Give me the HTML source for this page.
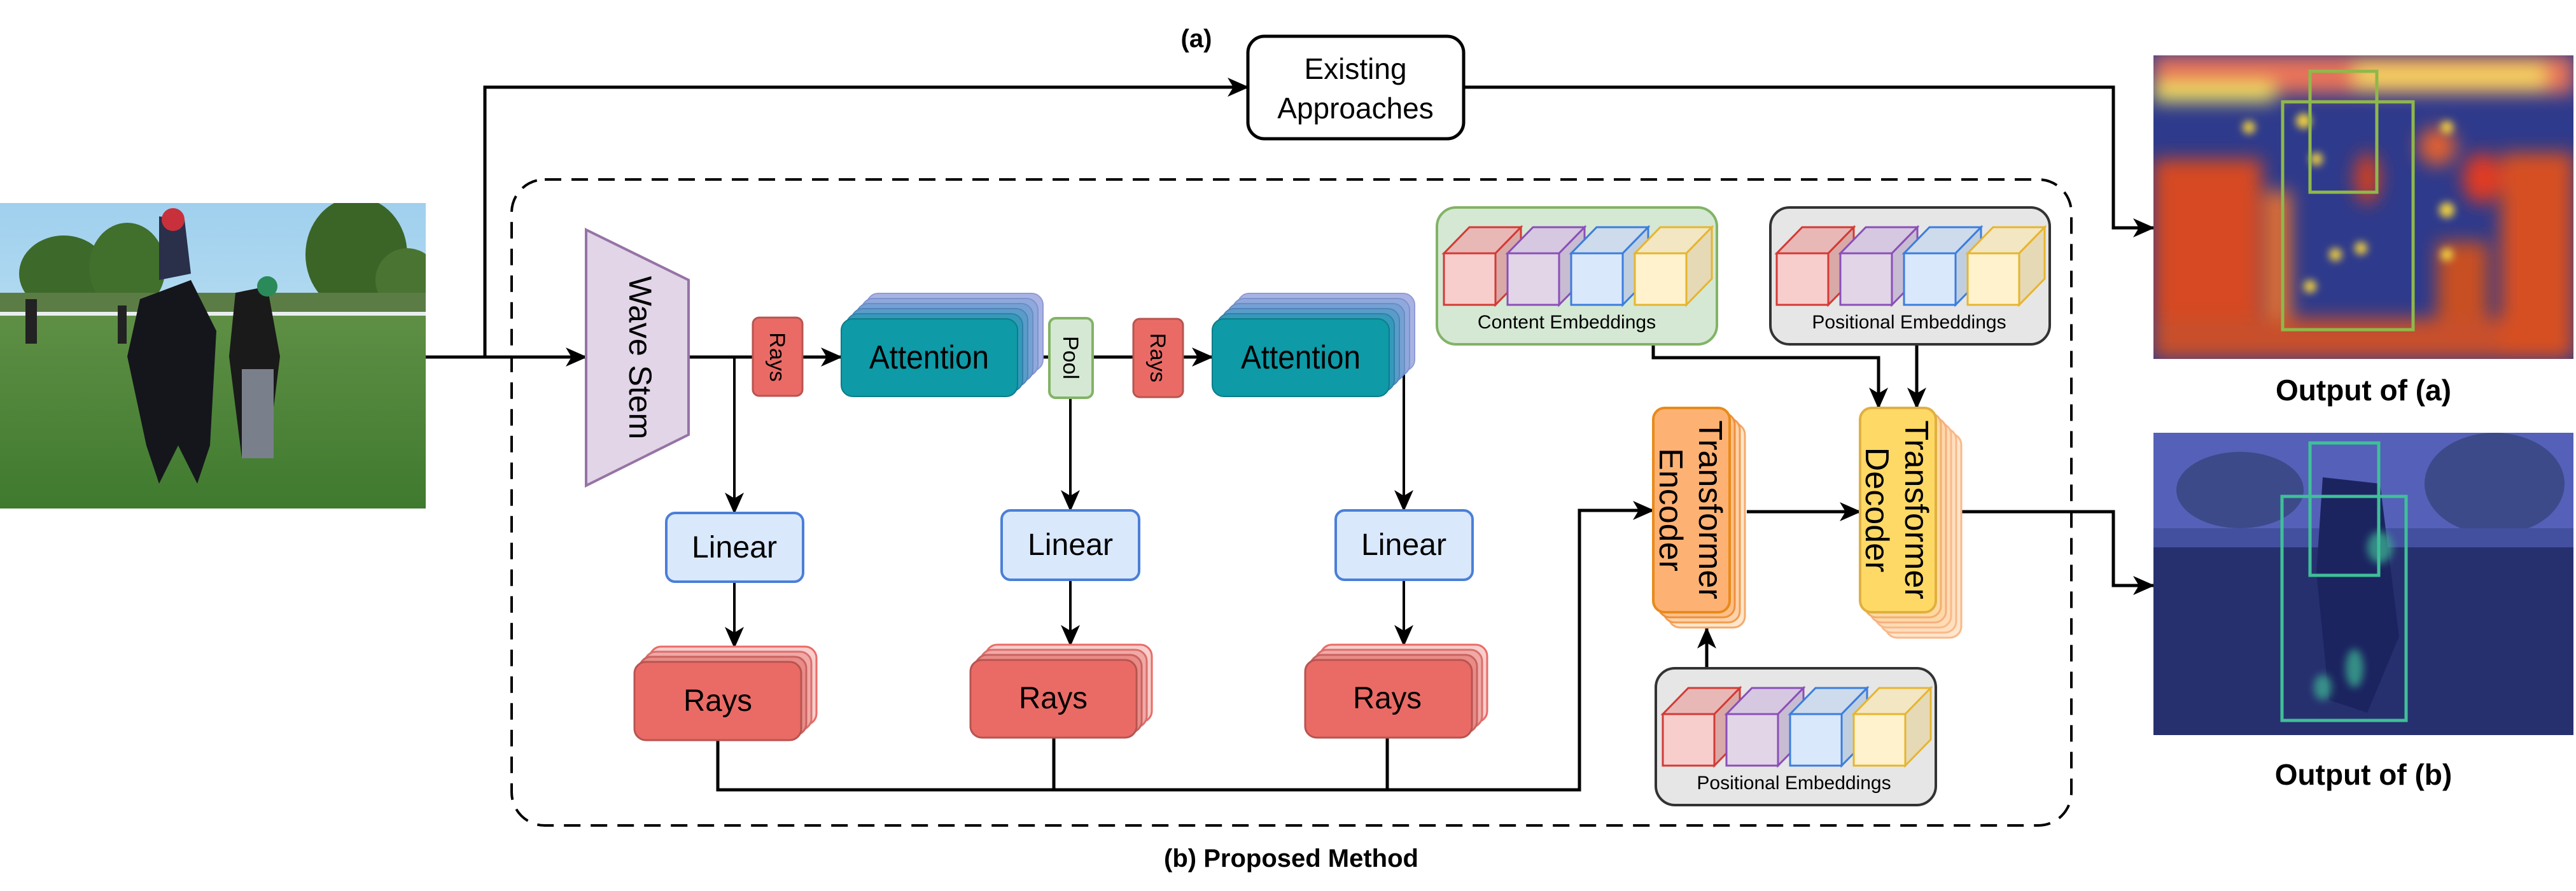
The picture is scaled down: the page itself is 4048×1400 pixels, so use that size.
<!DOCTYPE html>
<html><head><meta charset="utf-8"><style>
html,body{margin:0;padding:0;background:#fff;}
svg{display:block;}
text{font-family:"Liberation Sans",sans-serif;}
</style></head><body>
<svg width="4048" height="1400" viewBox="0 0 4048 1400" xmlns="http://www.w3.org/2000/svg">
<defs>
<marker id="ar" markerUnits="userSpaceOnUse" markerWidth="34" markerHeight="30" refX="32" refY="15" orient="auto">
<path d="M0,0 L34,15 L0,30 L9,15 z" fill="#000"/></marker>
<filter id="bl" x="-50%" y="-50%" width="200%" height="200%"><feGaussianBlur stdDeviation="14"/></filter>
<filter id="bl2" x="-50%" y="-50%" width="200%" height="200%"><feGaussianBlur stdDeviation="6"/></filter>
<linearGradient id="sky" x1="0" y1="0" x2="0" y2="1"><stop offset="0" stop-color="#9fd0ee"/><stop offset="1" stop-color="#d6ecf6"/></linearGradient>
<linearGradient id="grass" x1="0" y1="0" x2="0" y2="1"><stop offset="0" stop-color="#5e8f45"/><stop offset="1" stop-color="#3f7a2e"/></linearGradient>
<clipPath id="ca"><rect x="3384" y="87" width="660" height="477"/></clipPath>
<clipPath id="cb"><rect x="3384" y="680" width="660" height="475"/></clipPath>
<clipPath id="cp"><rect x="0" y="319" width="669" height="480"/></clipPath>
</defs>

<!-- Input photo -->
<g clip-path="url(#cp)">
<rect x="0" y="319" width="669" height="480" fill="url(#sky)"/>
<ellipse cx="100" cy="430" rx="70" ry="60" fill="#3d6a2a"/>
<ellipse cx="200" cy="420" rx="60" ry="70" fill="#416f2c"/>
<ellipse cx="560" cy="400" rx="80" ry="90" fill="#3a6527"/>
<ellipse cx="640" cy="440" rx="50" ry="50" fill="#4a7431"/>
<rect x="0" y="460" width="669" height="40" fill="#5b7d45"/>
<rect x="0" y="495" width="669" height="304" fill="url(#grass)"/>
<rect x="0" y="490" width="669" height="6" fill="#e8eef0"/>
<path d="M220,470 L300,440 L340,520 L330,700 L310,760 L280,700 L250,760 L230,700 L200,560 Z" fill="#15161c"/>
<path d="M250,340 L290,345 L300,430 L250,440 Z" fill="#2a2f4a"/>
<circle cx="272" cy="345" r="18" fill="#c8303c"/>
<path d="M370,460 L420,450 L440,560 L420,720 L380,720 L360,560 Z" fill="#1a1a1a"/>
<rect x="380" y="580" width="50" height="140" fill="#7a7f8c"/>
<circle cx="420" cy="450" r="16" fill="#2a8a5a"/>
<rect x="40" y="470" width="18" height="70" fill="#222"/>
<rect x="185" y="480" width="14" height="60" fill="#222"/>
</g>

<!-- Dashed box -->
<rect x="804" y="282" width="2451" height="1015" rx="52" fill="none" stroke="#000" stroke-width="4" stroke-dasharray="26,16"/>

<!-- Existing Approaches -->
<rect x="1961" y="57" width="339" height="161" rx="26" fill="#fff" stroke="#000" stroke-width="5"/>
<text x="2130" y="124" font-size="46" text-anchor="middle">Existing</text>
<text x="2130" y="186" font-size="46" text-anchor="middle">Approaches</text>
<text x="1880" y="74" font-size="40" font-weight="bold" text-anchor="middle">(a)</text>

<!-- Connectors main -->
<g fill="none" stroke="#000" stroke-width="5">
<path d="M669,561 H921" marker-end="url(#ar)"/>
<path d="M762,561 V137 H1961" marker-end="url(#ar)"/>
<path d="M2300,137 H3321 V358 H3384" marker-end="url(#ar)"/>
<path d="M1082,561 H1183"/>
<path d="M1261,561 H1322" marker-end="url(#ar)"/>
<path d="M1599,561 H1649"/>
<path d="M1717,561 H1781"/>
<path d="M1859,561 H1905" marker-end="url(#ar)"/>
<path d="M2598,541 V562 H2952 V641" marker-end="url(#ar)"/>
<path d="M3012,541 V641" marker-end="url(#ar)"/>
<path d="M2745,804 H2923" marker-end="url(#ar)"/>
<path d="M3082,804 H3321 V920 H3384" marker-end="url(#ar)"/>
<path d="M2682,1050 V987" marker-end="url(#ar)"/>
<path d="M1128,1163 V1241 H2482 V802 H2598" marker-end="url(#ar)"/>
<path d="M1656,1159 V1241"/>
<path d="M2180,1159 V1241"/>
</g>
<g fill="none" stroke="#000" stroke-width="4">
<path d="M1154,561 V806" marker-end="url(#ar)"/>
<path d="M1682,625 V802" marker-end="url(#ar)"/>
<path d="M2183,561 H2206 V802" marker-end="url(#ar)"/>
<path d="M1154,914 V1017" marker-end="url(#ar)"/>
<path d="M1682,911 V1014" marker-end="url(#ar)"/>
<path d="M2206,911 V1014" marker-end="url(#ar)"/>
</g>

<!-- Wave Stem -->
<polygon points="921,361 1082,440 1082,683 921,763" fill="#e1d5e7" stroke="#9673a6" stroke-width="4"/>
<text transform="translate(1006,562) rotate(90)" font-size="50" text-anchor="middle" dy="17">Wave Stem</text>

<!-- small Rays / Pool -->
<rect x="1183" y="499" width="78" height="123" rx="10" fill="#ea6b66" stroke="#b85450" stroke-width="3"/>
<text transform="translate(1222,561) rotate(90)" font-size="34" text-anchor="middle" dy="12">Rays</text>
<rect x="1649" y="500" width="68" height="125" rx="10" fill="#d5e8d4" stroke="#82b366" stroke-width="4"/>
<text transform="translate(1683,562) rotate(90)" font-size="34" text-anchor="middle" dy="12">Pool</text>
<rect x="1781" y="501" width="78" height="123" rx="10" fill="#ea6b66" stroke="#b85450" stroke-width="3"/>
<text transform="translate(1820,562) rotate(90)" font-size="34" text-anchor="middle" dy="12">Rays</text>

<!-- Attention stacks -->
<g stroke-width="2">
<rect x="1362" y="461" width="277" height="122" rx="18" fill="#a9b3e3" stroke="#8f9ad6"/>
<rect x="1354" y="469" width="277" height="122" rx="18" fill="#8fa9dc" stroke="#7d93cf"/>
<rect x="1346" y="477" width="277" height="122" rx="18" fill="#74a1d3" stroke="#6b8cc4"/>
<rect x="1338" y="485" width="277" height="122" rx="18" fill="#5a9cc9" stroke="#4f84b8"/>
<rect x="1330" y="493" width="277" height="122" rx="18" fill="#3599bb" stroke="#2f80a8"/>
<rect x="1322" y="501" width="277" height="122" rx="18" fill="#0e9aa7" stroke="#0b7d88"/>
<rect x="1945" y="461" width="278" height="122" rx="18" fill="#a9b3e3" stroke="#8f9ad6"/>
<rect x="1937" y="469" width="278" height="122" rx="18" fill="#8fa9dc" stroke="#7d93cf"/>
<rect x="1929" y="477" width="278" height="122" rx="18" fill="#74a1d3" stroke="#6b8cc4"/>
<rect x="1921" y="485" width="278" height="122" rx="18" fill="#5a9cc9" stroke="#4f84b8"/>
<rect x="1913" y="493" width="278" height="122" rx="18" fill="#3599bb" stroke="#2f80a8"/>
<rect x="1905" y="501" width="278" height="122" rx="18" fill="#0e9aa7" stroke="#0b7d88"/>
</g>
<text x="1460" y="579" font-size="52" text-anchor="middle" textLength="188" lengthAdjust="spacingAndGlyphs">Attention</text>
<text x="2044" y="579" font-size="52" text-anchor="middle" textLength="188" lengthAdjust="spacingAndGlyphs">Attention</text>

<!-- Linear -->
<g fill="#dae8fc" stroke="#4a7fd8" stroke-width="4">
<rect x="1047" y="806" width="215" height="108" rx="14"/>
<rect x="1574" y="802" width="216" height="109" rx="14"/>
<rect x="2099" y="802" width="215" height="109" rx="14"/>
</g>
<g font-size="48" text-anchor="middle">
<text x="1154" y="876" textLength="134" lengthAdjust="spacingAndGlyphs">Linear</text>
<text x="1682" y="872" textLength="134" lengthAdjust="spacingAndGlyphs">Linear</text>
<text x="2206" y="872" textLength="134" lengthAdjust="spacingAndGlyphs">Linear</text>
</g>

<!-- Rays big stacks -->
<g stroke-width="3">
<rect x="1021" y="1016" width="262" height="123" rx="18" fill="#f8cecc" stroke="#ea6b66"/>
<rect x="1013" y="1024" width="262" height="123" rx="18" fill="#f1a9a6" stroke="#d9706c"/>
<rect x="1005" y="1032" width="262" height="123" rx="18" fill="#e98b87" stroke="#c96360"/>
<rect x="997" y="1040" width="262" height="123" rx="18" fill="#ea6b66" stroke="#b85450"/>
<rect x="1549" y="1013" width="261" height="122" rx="18" fill="#f8cecc" stroke="#ea6b66"/>
<rect x="1541" y="1021" width="261" height="122" rx="18" fill="#f1a9a6" stroke="#d9706c"/>
<rect x="1533" y="1029" width="261" height="122" rx="18" fill="#e98b87" stroke="#c96360"/>
<rect x="1525" y="1037" width="261" height="122" rx="18" fill="#ea6b66" stroke="#b85450"/>
<rect x="2075" y="1013" width="262" height="122" rx="18" fill="#f8cecc" stroke="#ea6b66"/>
<rect x="2067" y="1021" width="262" height="122" rx="18" fill="#f1a9a6" stroke="#d9706c"/>
<rect x="2059" y="1029" width="262" height="122" rx="18" fill="#e98b87" stroke="#c96360"/>
<rect x="2051" y="1037" width="262" height="122" rx="18" fill="#ea6b66" stroke="#b85450"/>
</g>
<g font-size="48" text-anchor="middle">
<text x="1128" y="1117" textLength="108" lengthAdjust="spacingAndGlyphs">Rays</text>
<text x="1655" y="1113" textLength="108" lengthAdjust="spacingAndGlyphs">Rays</text>
<text x="2180" y="1113" textLength="108" lengthAdjust="spacingAndGlyphs">Rays</text>
</g>

<!-- Encoder -->
<g stroke-width="3">
<rect x="2622" y="665" width="120" height="321" rx="18" fill="#ffe6cc" stroke="#f5a96a"/>
<rect x="2614" y="657" width="120" height="321" rx="18" fill="#ffd2a8" stroke="#f29c50"/>
<rect x="2606" y="649" width="120" height="321" rx="18" fill="#ffc088" stroke="#ee9040"/>
<rect x="2598" y="641" width="120" height="321" rx="18" fill="#fdb274" stroke="#e88a1a" stroke-width="4"/>
</g>
<text transform="translate(2658,801) rotate(90)" font-size="52" text-anchor="middle"><tspan x="0" dy="-12">Transformer</tspan><tspan x="0" dy="62">Encoder</tspan></text>

<!-- Decoder -->
<g stroke-width="3">
<rect x="2963" y="681" width="119" height="321" rx="18" fill="#ffe6cc" stroke="#f8b98a"/>
<rect x="2955" y="673" width="119" height="321" rx="18" fill="#ffe0c0" stroke="#f8b98a"/>
<rect x="2947" y="665" width="119" height="321" rx="18" fill="#ffdcb4" stroke="#f8b98a"/>
<rect x="2939" y="657" width="119" height="321" rx="18" fill="#ffd8a8" stroke="#f5b080"/>
<rect x="2931" y="649" width="119" height="321" rx="18" fill="#ffd8a0" stroke="#f0b070"/>
<rect x="2923" y="641" width="119" height="321" rx="18" fill="#ffd966" stroke="#e0b040" stroke-width="4"/>
</g>
<text transform="translate(2982,801) rotate(90)" font-size="52" text-anchor="middle"><tspan x="0" dy="-12">Transformer</tspan><tspan x="0" dy="62">Decoder</tspan></text>

<!-- Embedding boxes -->
<rect x="2258" y="326" width="440" height="215" rx="30" fill="#d5e8d4" stroke="#82b366" stroke-width="4"/>
<rect x="2782" y="326" width="439" height="215" rx="30" fill="#e6e6e6" stroke="#333" stroke-width="4"/>
<rect x="2602" y="1050" width="440" height="215" rx="30" fill="#e6e6e6" stroke="#333" stroke-width="4"/>

<g id="cubes" stroke-width="3">
<!-- cube template drawn per position -->
</g>
<!-- Content cubes -->
<g stroke-width="3">
<g transform="translate(2269,398)">
<polygon points="0,0 40,-41 121,-41 81,0" fill="#e8b8b6" stroke="#d33a35"/><polygon points="81,0 121,-41 121,40 81,81" fill="#d9a9a7" stroke="#d33a35"/><rect x="0" y="0" width="81" height="81" fill="#f8cecc" stroke="#d33a35"/>
<polygon points="100,0 140,-41 221,-41 181,0" fill="#d6c8e0" stroke="#8a4fb8"/><polygon points="181,0 221,-41 221,40 181,81" fill="#c8bcd2" stroke="#8a4fb8"/><rect x="100" y="0" width="81" height="81" fill="#e1d5e7" stroke="#8a4fb8"/>
<polygon points="200,0 240,-41 321,-41 281,0" fill="#cddbec" stroke="#3b7ddd"/><polygon points="281,0 321,-41 321,40 281,81" fill="#c0cfe0" stroke="#3b7ddd"/><rect x="200" y="0" width="81" height="81" fill="#dae8fc" stroke="#3b7ddd"/>
<polygon points="300,0 340,-41 421,-41 381,0" fill="#f3e6c2" stroke="#e6b530"/><polygon points="381,0 421,-41 421,40 381,81" fill="#e6d9b6" stroke="#e6b530"/><rect x="300" y="0" width="81" height="81" fill="#fff2cc" stroke="#e6b530"/>
</g>
<g transform="translate(2792,398)">
<polygon points="0,0 40,-41 121,-41 81,0" fill="#e8b8b6" stroke="#d33a35"/><polygon points="81,0 121,-41 121,40 81,81" fill="#d9a9a7" stroke="#d33a35"/><rect x="0" y="0" width="81" height="81" fill="#f8cecc" stroke="#d33a35"/>
<polygon points="100,0 140,-41 221,-41 181,0" fill="#d6c8e0" stroke="#8a4fb8"/><polygon points="181,0 221,-41 221,40 181,81" fill="#c8bcd2" stroke="#8a4fb8"/><rect x="100" y="0" width="81" height="81" fill="#e1d5e7" stroke="#8a4fb8"/>
<polygon points="200,0 240,-41 321,-41 281,0" fill="#cddbec" stroke="#3b7ddd"/><polygon points="281,0 321,-41 321,40 281,81" fill="#c0cfe0" stroke="#3b7ddd"/><rect x="200" y="0" width="81" height="81" fill="#dae8fc" stroke="#3b7ddd"/>
<polygon points="300,0 340,-41 421,-41 381,0" fill="#f3e6c2" stroke="#e6b530"/><polygon points="381,0 421,-41 421,40 381,81" fill="#e6d9b6" stroke="#e6b530"/><rect x="300" y="0" width="81" height="81" fill="#fff2cc" stroke="#e6b530"/>
</g>
<g transform="translate(2613,1122)">
<polygon points="0,0 40,-41 121,-41 81,0" fill="#e8b8b6" stroke="#d33a35"/><polygon points="81,0 121,-41 121,40 81,81" fill="#d9a9a7" stroke="#d33a35"/><rect x="0" y="0" width="81" height="81" fill="#f8cecc" stroke="#d33a35"/>
<polygon points="100,0 140,-41 221,-41 181,0" fill="#d6c8e0" stroke="#8a4fb8"/><polygon points="181,0 221,-41 221,40 181,81" fill="#c8bcd2" stroke="#8a4fb8"/><rect x="100" y="0" width="81" height="81" fill="#e1d5e7" stroke="#8a4fb8"/>
<polygon points="200,0 240,-41 321,-41 281,0" fill="#cddbec" stroke="#3b7ddd"/><polygon points="281,0 321,-41 321,40 281,81" fill="#c0cfe0" stroke="#3b7ddd"/><rect x="200" y="0" width="81" height="81" fill="#dae8fc" stroke="#3b7ddd"/>
<polygon points="300,0 340,-41 421,-41 381,0" fill="#f3e6c2" stroke="#e6b530"/><polygon points="381,0 421,-41 421,40 381,81" fill="#e6d9b6" stroke="#e6b530"/><rect x="300" y="0" width="81" height="81" fill="#fff2cc" stroke="#e6b530"/>
</g>
</g>
<g font-size="30" text-anchor="middle">
<text x="2462" y="516">Content Embeddings</text>
<text x="3000" y="516">Positional Embeddings</text>
<text x="2819" y="1240">Positional Embeddings</text>
</g>

<!-- Output (a) heatmap -->
<g clip-path="url(#ca)">
<rect x="3384" y="87" width="660" height="477" fill="#2e3a8c"/>
<g filter="url(#bl)">
<rect x="3384" y="87" width="660" height="60" fill="#e8735a"/>
<rect x="3384" y="130" width="190" height="30" fill="#f0e060"/>
<rect x="3700" y="100" width="300" height="40" fill="#f4d060"/>
<rect x="3384" y="250" width="170" height="314" fill="#d64a20"/>
<rect x="3560" y="300" width="40" height="200" fill="#e07030"/>
<rect x="3384" y="500" width="660" height="64" fill="#c8502a"/>
<rect x="3930" y="240" width="114" height="324" fill="#d65020"/>
<ellipse cx="3900" cy="280" rx="30" ry="40" fill="#e03a20"/>
<ellipse cx="3720" cy="280" rx="20" ry="40" fill="#d04020"/>
<ellipse cx="3830" cy="230" rx="30" ry="30" fill="#e06030"/>
<rect x="3830" y="380" width="80" height="120" fill="#c85020"/>
</g>
<g filter="url(#bl2)" fill="#f0d040">
<circle cx="3534" cy="200" r="10"/><circle cx="3620" cy="190" r="12"/><circle cx="3640" cy="250" r="10"/>
<circle cx="3670" cy="400" r="10"/><circle cx="3710" cy="390" r="10"/><circle cx="3630" cy="450" r="10"/>
<circle cx="3845" cy="200" r="10"/><circle cx="3845" cy="330" r="12"/><circle cx="3845" cy="400" r="10"/>
</g>
<rect x="3587" y="160" width="205" height="358" fill="none" stroke="#8fb84a" stroke-width="5"/>
<rect x="3630" y="112" width="105" height="190" fill="none" stroke="#8fb84a" stroke-width="5"/>
</g>

<!-- Output (b) heatmap -->
<g clip-path="url(#cb)">
<rect x="3384" y="680" width="660" height="475" fill="#27306f"/>
<rect x="3384" y="680" width="660" height="160" fill="#5560b8"/>
<ellipse cx="3520" cy="770" rx="100" ry="60" fill="#3c4a8a"/>
<ellipse cx="3920" cy="760" rx="110" ry="80" fill="#3c4a8a"/>
<rect x="3384" y="830" width="660" height="30" fill="#4350a0"/>
<path d="M3650,750 L3740,760 L3770,1000 L3720,1120 L3660,1100 L3640,900 Z" fill="#1c2460"/>
<g filter="url(#bl2)" fill="#3aa890" opacity="0.8">
<ellipse cx="3740" cy="860" rx="20" ry="25"/><ellipse cx="3650" cy="1080" rx="14" ry="20"/><ellipse cx="3700" cy="1050" rx="14" ry="30"/>
</g>
<rect x="3586" y="780" width="195" height="352" fill="none" stroke="#3fbf98" stroke-width="5"/>
<rect x="3630" y="696" width="108" height="208" fill="none" stroke="#3fbf98" stroke-width="5"/>
</g>

<g font-size="46" font-weight="bold" text-anchor="middle">
<text x="3714" y="629">Output of (a)</text>
<text x="3714" y="1233">Output of (b)</text>
<text x="2029" y="1362" font-size="40">(b) Proposed Method</text>
</g>
</svg>
</body></html>
